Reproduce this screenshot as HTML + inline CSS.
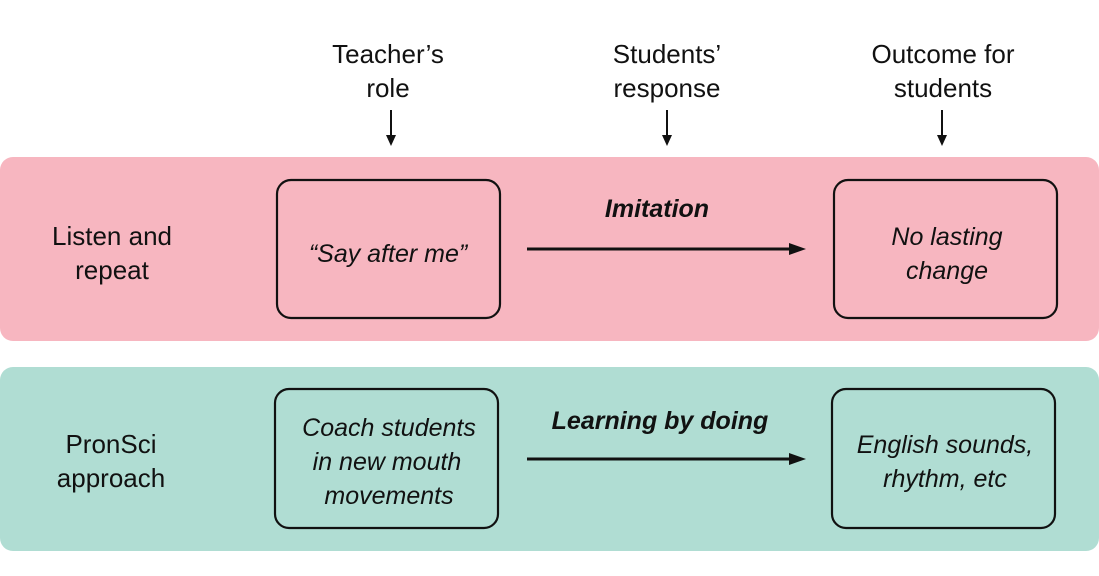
<!DOCTYPE html>
<html><head><meta charset="utf-8"><style>
html,body{margin:0;padding:0;background:#fff;}
svg text{font-family:"Liberation Sans",sans-serif;fill:#111;}
</style></head><body>
<svg width="1099" height="571" viewBox="0 0 1099 571" xmlns="http://www.w3.org/2000/svg">
<g font-size="26" text-anchor="middle">
<text x="388" y="63">Teacher’s</text><text x="388" y="97">role</text>
<text x="667" y="63">Students’</text><text x="667" y="97">response</text>
<text x="943" y="63">Outcome for</text><text x="943" y="97">students</text>
</g>
<g stroke="#111" stroke-width="2">
<line x1="391" y1="110" x2="391" y2="138"/><line x1="667" y1="110" x2="667" y2="138"/><line x1="942" y1="110" x2="942" y2="138"/>
</g>
<g fill="#111">
<polygon points="386,135 396,135 391,146"/><polygon points="662,135 672,135 667,146"/><polygon points="937,135 947,135 942,146"/>
</g>
<rect x="0" y="157" width="1099" height="184" rx="13" fill="#f7b6c0"/>
<rect x="0" y="367" width="1099" height="184" rx="13" fill="#b0ddd3"/>
<g fill="none" stroke="#111" stroke-width="2.2">
<rect x="277" y="180" width="223" height="138" rx="14"/>
<rect x="834" y="180" width="223" height="138" rx="14"/>
<rect x="275" y="389" width="223" height="139" rx="14"/>
<rect x="832" y="389" width="223" height="139" rx="14"/>
<line x1="527" y1="249" x2="792" y2="249" stroke-width="3"/>
<line x1="527" y1="459" x2="792" y2="459" stroke-width="3"/>
</g>
<g fill="#111">
<polygon points="789,243 806,249 789,255"/><polygon points="789,453 806,459 789,465"/>
</g>
<g font-size="26" text-anchor="middle">
<text x="112" y="245">Listen and</text><text x="112" y="279">repeat</text>
<text x="111" y="453">PronSci</text><text x="111" y="487">approach</text>
</g>
<g font-size="25" text-anchor="middle" font-style="italic">
<text x="388" y="262">“Say after me”</text>
<text x="947" y="245">No lasting</text><text x="947" y="279">change</text>
<text x="389" y="436">Coach students</text><text x="387" y="470">in new mouth</text><text x="389" y="504">movements</text>
<text x="945" y="453">English sounds,</text><text x="945" y="487">rhythm, etc</text>
</g>
<g font-size="25" text-anchor="middle" font-style="italic" font-weight="bold">
<text x="657" y="217">Imitation</text>
<text x="660" y="429">Learning by doing</text>
</g>
</svg>
</body></html>
